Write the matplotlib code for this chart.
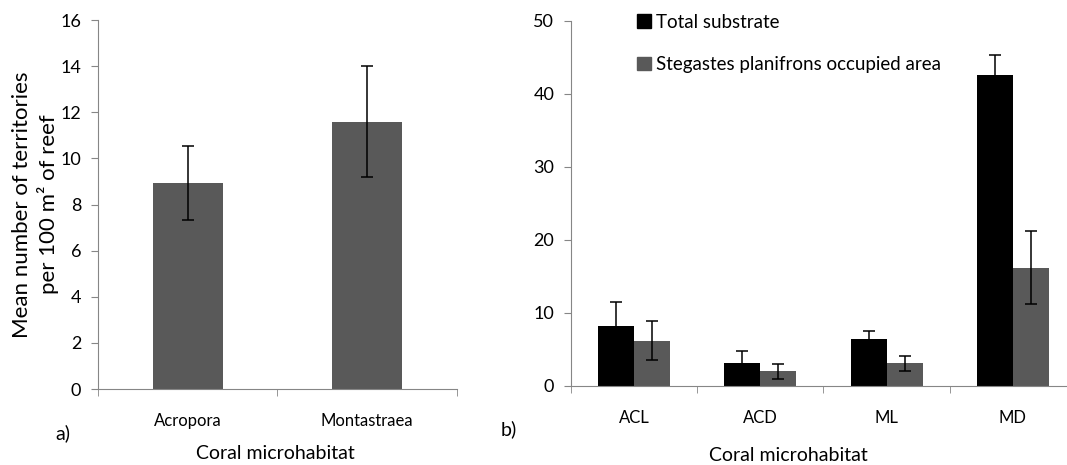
import matplotlib.pyplot as plt
import numpy as np
from matplotlib.patches import Patch

plt.rcParams['font.family'] = ['Lato', 'DejaVu Sans']

# panel a
genera = ['Acropora', 'Montastraea']
territories = [8.95, 11.6]
territories_err = [1.6, 2.4]

# panel b
habitats = ['ACL', 'ACD', 'ML', 'MD']
total_substrate = [8.2, 3.1, 6.4, 42.6]
total_err = [3.3, 1.7, 1.1, 2.7]
occupied = [6.2, 2.0, 3.1, 16.2]
occupied_err = [2.65, 1.0, 1.0, 5.0]

GREY_SPINE = '#868686'
BAR_GREY = '#595959'


def style_axes(ax, n):
    for s in ['top', 'right']:
        ax.spines[s].set_visible(False)
    for s in ['left', 'bottom']:
        ax.spines[s].set_color(GREY_SPINE)
    ax.set_xlim(-0.5, n - 0.5)
    ax.set_xticks(np.arange(n))
    ax.set_xticks(np.arange(n + 1) - 0.5, minor=True)
    ax.tick_params(axis='x', which='major', length=0, pad=17, labelsize=12)
    ax.tick_params(axis='x', which='minor', length=5, color=GREY_SPINE, direction='out')
    ax.tick_params(axis='y', length=5, color=GREY_SPINE, labelsize=13, pad=7)


fig = plt.figure(figsize=[10.67, 4.65], dpi=100)

# a)
ax1 = fig.add_axes([0.0918, 0.1634, 0.3365, 0.7935])
x = np.arange(len(genera))
ax1.bar(x, territories, 0.39, color=BAR_GREY, zorder=2)
ax1.errorbar(x, territories, yerr=territories_err, fmt='none', ecolor='black',
             elinewidth=1.1, capsize=4, capthick=1.1, zorder=3)
style_axes(ax1, len(genera))
ax1.set_xticklabels(genera)
ax1.set_ylim(0, 16)
ax1.set_yticks(range(0, 17, 2))
ax1.set_ylabel('Mean number of territories\nper 100 m² of reef', fontsize=16,
               linespacing=1.3)
ax1.yaxis.set_label_coords(-0.108, 0.5)
fig.text(0.0515, 0.055, 'a)', fontsize=14)
fig.text(0.258, 0.012, 'Coral microhabitat', fontsize=14, ha='center')

# b)
ax2 = fig.add_axes([0.5351, 0.1699, 0.4733, 0.785])
x = np.arange(len(habitats))
w = 0.285
ax2.bar(x - w / 2, total_substrate, w, color='black', zorder=2)
ax2.bar(x + w / 2, occupied, w, color=BAR_GREY, zorder=2)
ax2.errorbar(x - w / 2, total_substrate, yerr=total_err, fmt='none', ecolor='black',
             elinewidth=1.1, capsize=4, capthick=1.1, zorder=3)
ax2.errorbar(x + w / 2, occupied, yerr=occupied_err, fmt='none', ecolor='black',
             elinewidth=1.1, capsize=4, capthick=1.1, zorder=3)
style_axes(ax2, len(habitats))
ax2.set_xticklabels(habitats)
ax2.set_ylim(0, 50)
ax2.set_yticks(range(0, 51, 10))
fig.text(0.469, 0.065, 'b)', fontsize=14)
fig.text(0.739, 0.008, 'Coral microhabitat', fontsize=14, ha='center')

handles = [Patch(color='black'), Patch(color=BAR_GREY)]
fig.legend(handles, ['Total substrate', 'Stegastes planifrons occupied area'],
           loc='upper left', bbox_to_anchor=(0.581, 1.007), frameon=False,
           handlelength=0.75, handleheight=0.75, handletextpad=0.25,
           labelspacing=1.35, fontsize=13.5)

fig.savefig('out.png', dpi=100)
